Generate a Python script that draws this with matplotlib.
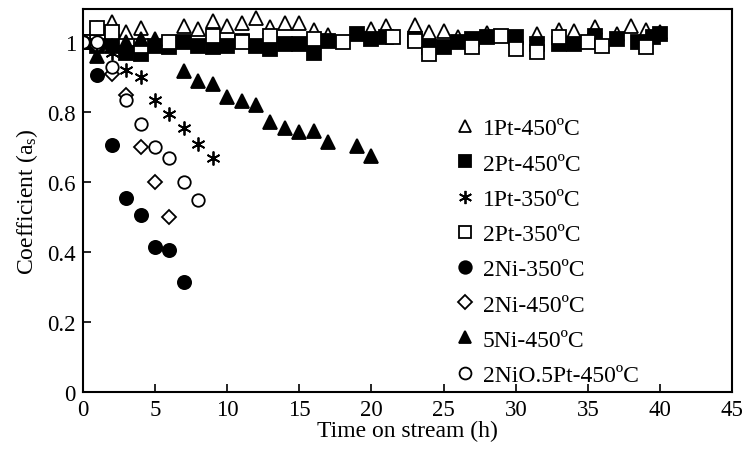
import matplotlib
matplotlib.use("Agg")
import matplotlib.pyplot as plt
from matplotlib.lines import Line2D

plt.rcParams['font.family'] = ['Liberation Serif', 'DejaVu Serif']
plt.rcParams['mathtext.fontset'] = 'custom'
plt.rcParams['mathtext.rm'] = 'Liberation Serif'
plt.rcParams['mathtext.it'] = 'Liberation Serif:italic'

# ---- data ----
x_1pt450 = [0, 1, 2, 3, 4, 7, 8, 9, 10, 11, 12, 13, 14, 15, 16, 17, 20, 21, 23, 24, 25, 26, 28,
            31.5, 33, 34, 35.5, 37, 38, 39, 40]
y_1pt450 = [1.0, 1.04, 1.057, 1.03, 1.04, 1.046, 1.037, 1.06, 1.046, 1.054, 1.069, 1.043, 1.054,
            1.054, 1.036, 1.021, 1.039, 1.047, 1.049, 1.03, 1.031, 1.014, 1.027, 1.023, 1.036,
            1.031, 1.044, 1.024, 1.046, 1.036, 1.03]

x_2pt450 = [0, 1, 2, 3, 4, 5, 6, 7, 8, 9, 10, 11, 12, 13, 14, 15, 16, 17, 19, 20, 21, 23, 24, 25,
            26, 27, 28, 30, 31.5, 33, 34, 35.5, 37, 38.5, 39.5, 40]
y_2pt450 = [1.0, 0.99, 1.0, 0.97, 0.966, 0.99, 0.986, 1.0, 0.99, 0.986, 0.99, 1.003, 0.99, 0.98,
            0.994, 0.994, 0.97, 1.003, 1.023, 1.01, 1.014, 1.01, 0.986, 0.986, 1.0, 1.01, 1.014,
            1.014, 0.994, 0.994, 0.994, 1.017, 1.01, 1.0, 1.014, 1.023]

x_1pt350 = [0, 2, 3, 4, 5, 6, 7, 8, 9]
y_1pt350 = [1.0, 0.97, 0.92, 0.90, 0.835, 0.795, 0.755, 0.71, 0.67]

x_2pt350 = [0, 1, 2, 4, 6, 9, 11, 13, 16, 18, 21.5, 23, 24, 27, 29, 30, 31.5, 33, 35, 36, 39]
y_2pt350 = [1.0, 1.04, 1.03, 0.99, 1.0, 1.017, 1.0, 1.017, 1.01, 1.0, 1.014, 1.003, 0.966, 0.986,
            1.017, 0.98, 0.972, 1.014, 1.0, 0.989, 0.986]

x_2ni350 = [0, 1, 2, 3, 4, 5, 6, 7]
y_2ni350 = [1.0, 0.905, 0.705, 0.555, 0.505, 0.415, 0.405, 0.315]

x_2ni450 = [0, 1, 2, 3, 4, 5, 6]
y_2ni450 = [1.0, 0.99, 0.91, 0.85, 0.70, 0.60, 0.50]

x_5ni450 = [0, 1, 2, 3, 4, 5, 7, 8, 9, 10, 11, 12, 13, 14, 15, 16, 17, 19, 20]
y_5ni450 = [1.0, 0.96, 0.99, 1.0, 1.01, 1.01, 0.917, 0.889, 0.88, 0.843, 0.831, 0.82, 0.771,
            0.754, 0.743, 0.746, 0.714, 0.703, 0.674]

x_2ni05pt = [0, 1, 2, 3, 4, 5, 6, 7, 8]
y_2ni05pt = [1.0, 1.0, 0.93, 0.835, 0.765, 0.70, 0.67, 0.60, 0.55]

labels = ['1Pt-450ºC', '2Pt-450ºC', '1Pt-350ºC', '2Pt-350ºC',
          '2Ni-350ºC', '2Ni-450ºC', '5Ni-450ºC', '2NiO.5Pt-450ºC']
xticks = [0, 5, 10, 15, 20, 25, 30, 35, 40, 45]
yticks = [0, 0.2, 0.4, 0.6, 0.8, 1.0]
ytick_labels = ['0', '0.2', '0.4', '0.6', '0.8', '1']

# ---- figure ----
fig = plt.figure(figsize=(7.46, 4.56), dpi=100)
ax = fig.add_axes([0.111, 0.138, 0.8706, 0.841])

series = [
    (x_1pt450, y_1pt450, dict(marker='^', mfc='white', mec='black', ms=9.5)),
    (x_2pt450, y_2pt450, dict(marker='s', mfc='black', mec='black', ms=9.5)),
    (x_1pt350, y_1pt350, dict(marker=(6, 2, 0), mfc='none', mec='black', ms=10)),
    (x_2pt350, y_2pt350, dict(marker='s', mfc='white', mec='black', ms=9.5)),
    (x_2ni350, y_2ni350, dict(marker='o', mfc='black', mec='black', ms=9.5)),
    (x_2ni450, y_2ni450, dict(marker='D', mfc='white', mec='black', ms=7.5)),
    (x_5ni450, y_5ni450, dict(marker='^', mfc='black', mec='black', ms=9.5)),
    (x_2ni05pt, y_2ni05pt, dict(marker='o', mfc='white', mec='black', ms=9)),
]

handles = []
for (xs, ys, st), lab in zip(series, labels):
    ln, = ax.plot(xs, ys, linestyle='none', mew=1.3, label=lab, **st)
    handles.append(ln)

ax.set_xlim(0, 45)
ax.set_ylim(0, 1.096)
ax.set_xticks(xticks)
ax.set_xticklabels([str(t) for t in xticks])
ax.set_yticks(yticks)
ax.set_yticklabels(ytick_labels)
ax.tick_params(direction='in', length=6, width=1.2, labelsize=16.5, pad=5)
for s in ax.spines.values():
    s.set_linewidth(1.5)

ax.set_xlabel('Time on stream (h)', fontsize=17, labelpad=0)
ax.set_ylabel('Coefficient (a$_\\mathrm{s}$)', fontsize=17, labelpad=5)

leg = ax.legend(handles=handles, loc='upper left', bbox_to_anchor=(0.578, 0.715),
                frameon=False, fontsize=17, handlelength=0.6, handletextpad=0.45,
                labelspacing=0.58, borderpad=0, borderaxespad=0, markerscale=0.95)

fig.savefig('out.png', dpi=100)
